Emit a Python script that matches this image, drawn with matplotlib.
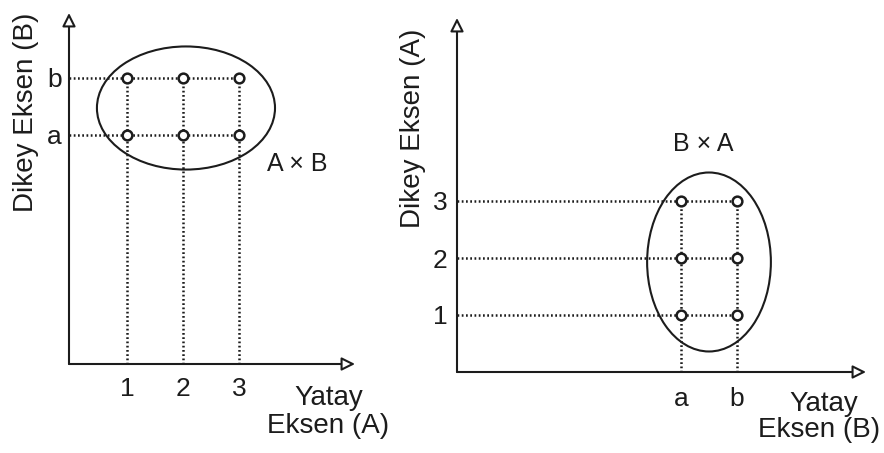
import matplotlib
matplotlib.use("Agg")
import matplotlib.pyplot as plt
from matplotlib.patches import Ellipse

plt.rcParams['font.family'] = ['Liberation Sans', 'DejaVu Sans']

# Sets
A = [1, 2, 3]
B = ['a', 'b']
A_labels = ['1', '2', '3']
B_labels = ['a', 'b']
A_pos = [1, 2, 3]
B_pos = [1, 2]

INK = '#1c1c1c'
FS = 20
TFS = 19

W, H = 884, 453
fig = plt.figure(figsize=(W / 100, H / 100), dpi=100)


def px(x, y):
    return x / W, 1 - y / H


def draw_arrow_axes(ax):
    for sp in ax.spines.values():
        sp.set_visible(False)
    for tip in [(0, 1.0), (1.0, 0)]:
        ax.annotate('', xy=tip, xytext=(0, 0), xycoords='axes fraction',
                    arrowprops=dict(arrowstyle='-|>,head_length=0.5,head_width=0.25',
                                    fc='white', ec=INK, lw=1.5,
                                    mutation_scale=16, shrinkA=0, shrinkB=0))
    ax.tick_params(length=0, labelsize=TFS, colors=INK)


dot = dict(color=INK, lw=1.8, linestyle=(0, (0.7, 1.0)))
mk = dict(marker='o', ms=7, mfc='white', mec=INK, mew=1.8, ls='none', zorder=5)

# ---------- Left: A x B ----------
ax1 = fig.add_axes([69 / W, (H - 364) / H, (355 - 69) / W, (364 - 13) / H])
ax1.set_xlim(-0.0357, -0.0357 + 286 / 56)
ax1.set_ylim(-3.018, -3.018 + 351 / 57)
draw_arrow_axes(ax1)
x0, x1 = ax1.get_xlim()
y0, y1 = ax1.get_ylim()
for yb in B_pos:
    ax1.plot([x0, max(A_pos)], [yb, yb], **dot)
for xa in A_pos:
    ax1.plot([xa, xa], [y0, max(B_pos)], **dot)
for xa in A_pos:
    for yb in B_pos:
        ax1.plot([xa], [yb], **mk)
ax1.add_patch(Ellipse((2.053, 1.473), 3.18, 2.16, fill=False, ec=INK, lw=1.5))
ax1.text(4.036, 0.491, 'A × B', fontsize=18, color=INK, ha='center', va='center')
ax1.set_xticks(A_pos, A_labels)
ax1.set_yticks(B_pos, B_labels)
ax1.tick_params(axis='x', pad=9)
ax1.tick_params(axis='y', pad=5)

fig.text(*px(26, 112), 'Dikey Eksen (B)', rotation=90, fontsize=FS, color=INK,
         ha='center', va='center')
fig.text(*px(329, 405), 'Yatay', fontsize=FS, color=INK, ha='center', va='baseline')
fig.text(*px(328, 433), 'Eksen (A)', fontsize=FS, color=INK, ha='center', va='baseline')

# ---------- Right: B x A ----------
ax2 = fig.add_axes([457 / W, (H - 372) / H, (866 - 457) / W, (372 - 18) / H])
ax2.set_xlim(-3, -3 + 409 / 56)
ax2.set_ylim(0, 354 / 57)
draw_arrow_axes(ax2)
x0, x1 = ax2.get_xlim()
y0, y1 = ax2.get_ylim()
for ya in A_pos:
    ax2.plot([x0, max(B_pos)], [ya, ya], **dot)
for xb in B_pos:
    ax2.plot([xb, xb], [y0, max(A_pos)], **dot)
for xb in B_pos:
    for ya in A_pos:
        ax2.plot([xb], [ya], **mk)
ax2.add_patch(Ellipse((1.5, 1.93), 2.21, 3.14, fill=False, ec=INK, lw=1.5))
ax2.text(1.393, 4.0, 'B × A', fontsize=18, color=INK, ha='center', va='center')
ax2.set_xticks(B_pos, B_labels)
ax2.set_yticks(A_pos, A_labels)
ax2.tick_params(axis='x', pad=11)
ax2.tick_params(axis='y', pad=7)

fig.text(*px(413, 128), 'Dikey Eksen (A)', rotation=90, fontsize=FS, color=INK,
         ha='center', va='center')
fig.text(*px(824, 411), 'Yatay', fontsize=FS, color=INK, ha='center', va='baseline')
fig.text(*px(819, 437), 'Eksen (B)', fontsize=FS, color=INK, ha='center', va='baseline')

fig.savefig('out.png', dpi=100, facecolor='white')
